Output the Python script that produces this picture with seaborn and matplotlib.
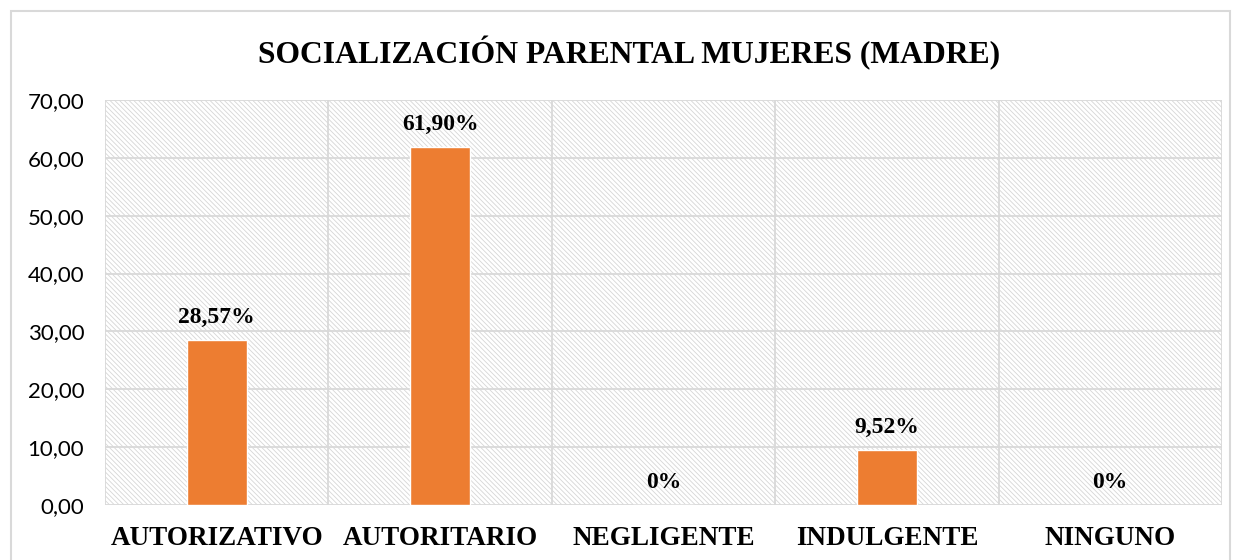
import matplotlib
matplotlib.use("Agg")
import matplotlib.pyplot as plt
import seaborn as sns
import pandas as pd
from matplotlib.patches import Rectangle

categorias = ["AUTORIZATIVO", "AUTORITARIO", "NEGLIGENTE", "INDULGENTE", "NINGUNO"]
porcentajes = [28.57, 61.90, 0.0, 9.52, 0.0]
etiquetas = ["28,57%", "61,90%", "0%", "9,52%", "0%"]
y_ticks = [0, 10, 20, 30, 40, 50, 60, 70]

df = pd.DataFrame({"estilo": categorias, "pct": porcentajes})

sns.set_style("white")
plt.rcParams["text.color"] = "black"
plt.rcParams["xtick.color"] = "black"
plt.rcParams["ytick.color"] = "black"
plt.rcParams["hatch.color"] = "#d6d6d6"
plt.rcParams["hatch.linewidth"] = 0.6

fig = plt.figure(figsize=(12.38, 5.6), dpi=100)
ax = fig.add_axes([105 / 1238, 1 - 505 / 560, (1222 - 105) / 1238, (505 - 100) / 560])

# fondo rayado
ax.patch.set_facecolor("white")
ax.add_patch(Rectangle((0, 0), 1, 1, transform=ax.transAxes, facecolor="white",
                       edgecolor="#d6d6d6", hatch="\\" * 7, lw=0, zorder=0))

sns.barplot(data=df, x="estilo", y="pct", color="#ed7d31", width=0.27,
            saturation=1, ax=ax, zorder=3)

ax.set_ylim(0, 70)
ax.set_xlim(-0.5, len(categorias) - 0.5)
ax.set_yticks(y_ticks)
ax.set_yticklabels([f"{v:.2f}".replace(".", ",") for v in y_ticks],
                   fontsize=16, family="Lato")
ax.set_xticks(range(len(categorias)))
ax.set_xticklabels(categorias, fontsize=19.5, family="Liberation Serif", fontweight="bold")
ax.tick_params(axis="x", length=0, pad=15)
ax.tick_params(axis="y", length=0, pad=15)
ax.set_xlabel("")
ax.set_ylabel("")

for y in y_ticks:
    ax.axhline(y, color="#d9d9d9", lw=1.3, zorder=1)
for x in range(len(categorias) + 1):
    ax.axvline(x - 0.5, color="#d9d9d9", lw=1.3, zorder=1)
for s in ax.spines.values():
    s.set_visible(False)

for i, (v, t) in enumerate(zip(porcentajes, etiquetas)):
    ax.text(i, v + 2.0, t, ha="center", va="bottom", fontsize=17,
            family="Liberation Serif", fontweight="bold", zorder=4)

fig.text(629 / 1238, 1 - 53 / 560, "SOCIALIZACIÓN PARENTAL MUJERES (MADRE)", ha="center",
         va="center", fontsize=22.8, family="Liberation Serif", fontweight="bold")

fig.add_artist(Rectangle((11 / 1238, -0.1), (1230 - 11) / 1238, 1.1 - 11 / 560,
                         transform=fig.transFigure, fill=False, edgecolor="#d9d9d9", lw=1.5))

fig.savefig("out.png", dpi=100)
